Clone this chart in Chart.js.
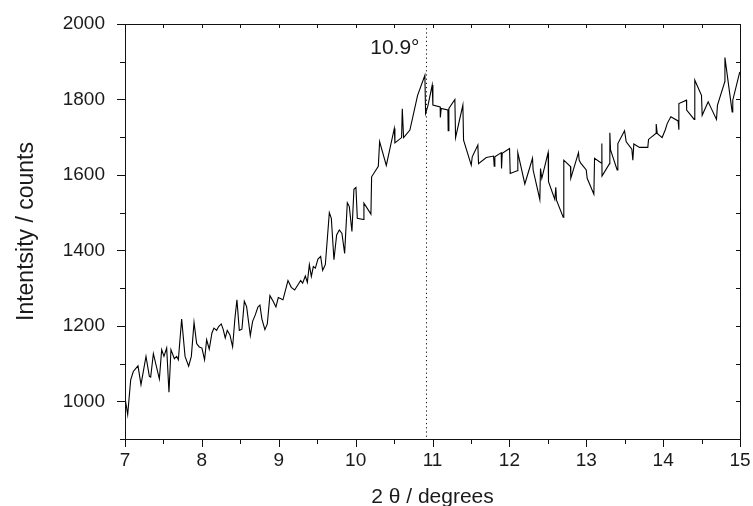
<!DOCTYPE html>
<html>
<head>
<meta charset="utf-8">
<script src="https://cdn.jsdelivr.net/npm/chart.js@4.4.1/dist/chart.umd.min.js"></script>
<style>
  html, body { margin: 0; padding: 0; background: #fff; }
  canvas { display: block; }
</style>
</head>
<body>
<canvas id="xrdChart" width="753" height="506"></canvas>
<script>
// 2 theta (degrees)
const twoTheta = [
  7.00, 7.035, 7.074, 7.108, 7.169, 7.208, 7.273, 7.317, 7.334, 7.369,
  7.447, 7.477, 7.507, 7.542, 7.572, 7.598, 7.642, 7.672, 7.694, 7.737,
  7.781, 7.828, 7.863, 7.898, 7.932, 7.966, 8.001, 8.035, 8.062, 8.096,
  8.131, 8.157, 8.192, 8.218, 8.252, 8.278, 8.304, 8.330, 8.365, 8.400,
  8.430, 8.456, 8.487, 8.521, 8.552, 8.582, 8.630, 8.660, 8.695, 8.729,
  8.755, 8.781, 8.820, 8.851, 8.885, 8.927, 8.963, 8.994, 9.055, 9.120,
  9.163, 9.207, 9.250, 9.285, 9.311, 9.346, 9.372, 9.398, 9.424, 9.450,
  9.476, 9.510, 9.545, 9.571, 9.606, 9.658, 9.684, 9.718, 9.753, 9.788,
  9.822, 9.857, 9.892, 9.918, 9.952, 9.978, 10.004, 10.022, 10.100, 10.108,
  10.199, 10.208, 10.295, 10.312, 10.399, 10.503, 10.511, 10.598, 10.607, 10.624,
  10.706, 10.806, 10.901, 10.910, 10.940, 10.996, 11.005, 11.100, 11.102, 11.113,
  11.200, 11.204, 11.213, 11.291, 11.300, 11.395, 11.404, 11.504, 11.517, 11.590,
  11.599, 11.699, 11.794, 11.803, 11.811, 11.894, 11.898, 11.907, 12.002, 12.011,
  12.101, 12.110, 12.201, 12.301, 12.309, 12.396, 12.405, 12.422, 12.504, 12.509,
  12.591, 12.604, 12.613, 12.700, 12.708, 12.795, 12.799, 12.899, 12.908, 12.926,
  13.000, 13.012, 13.099, 13.108, 13.194, 13.203, 13.205, 13.303, 13.307, 13.316,
  13.402, 13.411, 13.498, 13.520, 13.593, 13.606, 13.619, 13.693, 13.801, 13.810,
  13.908, 13.910, 13.923, 13.987, 14.027, 14.053, 14.100, 14.195, 14.204, 14.206,
  14.304, 14.306, 14.404, 14.412, 14.499, 14.508, 14.586, 14.620, 14.694, 14.707,
  14.802, 14.804, 14.898, 14.906, 14.997
];

// intensity (counts)
const counts = [
  1009, 965, 1057, 1079, 1094, 1044, 1119, 1066, 1064, 1126,
  1059, 1137, 1119, 1141, 1024, 1137, 1113, 1119, 1110, 1218,
  1119, 1093, 1119, 1209, 1153, 1144, 1141, 1110, 1163, 1138,
  1181, 1194, 1188, 1198, 1205, 1190, 1168, 1188, 1176, 1144,
  1220, 1269, 1188, 1191, 1265, 1251, 1174, 1212, 1229, 1250,
  1255, 1218, 1190, 1205, 1280, 1265, 1250, 1275, 1269, 1320,
  1302, 1295, 1309, 1320, 1313, 1332, 1315, 1362, 1331, 1357,
  1353, 1377, 1384, 1347, 1362, 1500, 1485, 1375, 1441, 1454,
  1445, 1392, 1526, 1516, 1450, 1562, 1567, 1485, 1482, 1525,
  1496, 1595, 1623, 1688, 1625, 1723, 1685, 1699, 1775, 1699,
  1719, 1811, 1864, 1763, 1783, 1838, 1785, 1780, 1752, 1776,
  1772, 1717, 1776, 1800, 1699, 1785, 1692, 1626, 1648, 1679,
  1630, 1646, 1650, 1623, 1648, 1659, 1617, 1657, 1670, 1604,
  1611, 1659, 1576, 1644, 1613, 1535, 1617, 1591, 1659, 1582,
  1535, 1567, 1533, 1488, 1639, 1622, 1591, 1659, 1639, 1632,
  1613, 1591, 1549, 1644, 1632, 1683, 1597, 1630, 1712, 1666,
  1613, 1683, 1717, 1688, 1668, 1639, 1682, 1673, 1673, 1694,
  1710, 1735, 1710, 1699, 1719, 1736, 1754, 1743, 1720, 1789,
  1798, 1772, 1747, 1851, 1811, 1758, 1794, 1779, 1747, 1785,
  1847, 1911, 1767, 1798, 1873
];

const xTicks = [7, 7.5, 8, 8.5, 9, 9.5, 10, 10.5, 11, 11.5, 12, 12.5, 13, 13.5, 14, 14.5, 15];
const yTicks = [900, 1000, 1100, 1200, 1300, 1400, 1500, 1600, 1700, 1800, 1900, 2000];
const yLabelled = [1000, 1200, 1400, 1600, 1800, 2000];
const peakPosition = 10.92;
const peakLabel = '10.9\u00B0';

const points = twoTheta.map((t, i) => ({ x: t, y: counts[i] }));
const textColor = '#1a1a1a';
const fontFamily = '"Liberation Sans", Arial, Helvetica, sans-serif';

// frame, tick marks, dotted peak marker and its label
const decorations = {
  id: 'decorations',
  afterDraw(chart) {
    const ctx = chart.ctx;
    const area = chart.chartArea;
    const x = chart.scales.x;
    const y = chart.scales.y;
    ctx.save();
    ctx.strokeStyle = '#111';
    ctx.lineWidth = 1;
    ctx.strokeRect(Math.round(area.left) + 0.5, Math.round(area.top) + 0.5,
      Math.round(area.right - area.left), Math.round(area.bottom - area.top));

    ctx.beginPath();
    xTicks.forEach(v => {
      const px = Math.round(x.getPixelForValue(v)) + 0.5;
      const len = Number.isInteger(v) ? 8 : 5;
      ctx.moveTo(px, area.bottom); ctx.lineTo(px, area.bottom + len);
      ctx.moveTo(px, area.top); ctx.lineTo(px, area.top + 4);
    });
    yTicks.forEach(v => {
      const py = Math.round(y.getPixelForValue(v)) + 0.5;
      const len = yLabelled.includes(v) ? 8 : 5;
      ctx.moveTo(area.left, py); ctx.lineTo(area.left - len, py);
      ctx.moveTo(area.right, py); ctx.lineTo(area.right - 4, py);
    });
    ctx.stroke();

    const peakX = Math.round(x.getPixelForValue(peakPosition)) + 0.5;
    ctx.beginPath();
    ctx.setLineDash([1.2, 3]);
    ctx.moveTo(peakX, area.top);
    ctx.lineTo(peakX, area.bottom);
    ctx.stroke();
    ctx.setLineDash([]);

    ctx.fillStyle = textColor;
    ctx.font = '21px ' + fontFamily;
    ctx.textAlign = 'right';
    ctx.textBaseline = 'middle';
    ctx.fillText(peakLabel, peakX - 7, y.getPixelForValue(1935));
    ctx.restore();
  }
};

const ctx = document.getElementById('xrdChart').getContext('2d');
const xrdChart = new Chart(ctx, {
  type: 'line',
  data: {
    datasets: [{
      data: points,
      borderColor: '#000',
      borderWidth: 1.1,
      pointRadius: 0,
      tension: 0,
      fill: false
    }]
  },
  options: {
    responsive: false,
    animation: false,
    layout: { padding: { top: 24, right: 13, left: 0, bottom: 0 } },
    plugins: {
      legend: { display: false },
      tooltip: { enabled: false }
    },
    scales: {
      x: {
        type: 'linear',
        min: 7,
        max: 15,
        afterFit: scale => {
          scale.height = 67;
          scale.paddingLeft = 0;
          scale.paddingRight = 0;
        },
        grid: { display: false, drawTicks: false },
        border: { display: false },
        ticks: {
          stepSize: 1,
          maxRotation: 0,
          autoSkip: false,
          padding: 10,
          color: textColor,
          font: { family: fontFamily, size: 19 }
        },
        title: {
          display: true,
          text: '2 \u03B8 / degrees',
          color: textColor,
          padding: { top: 0, bottom: -4 },
          font: { family: fontFamily, size: 21 }
        }
      },
      y: {
        min: 900,
        max: 2000,
        afterFit: scale => {
          scale.width = 125;
          scale.paddingTop = 0;
          scale.paddingBottom = 0;
        },
        grid: { display: false, drawTicks: false },
        border: { display: false },
        ticks: {
          stepSize: 100,
          autoSkip: false,
          padding: 20,
          color: textColor,
          font: { family: fontFamily, size: 19 },
          callback: v => yLabelled.includes(v) ? String(v) : ''
        },
        title: {
          display: true,
          text: 'Intentsity / counts',
          color: textColor,
          padding: { top: 13, bottom: 0 },
          font: { family: fontFamily, size: 23 }
        }
      }
    }
  },
  plugins: [decorations]
});
</script>
</body>
</html>
